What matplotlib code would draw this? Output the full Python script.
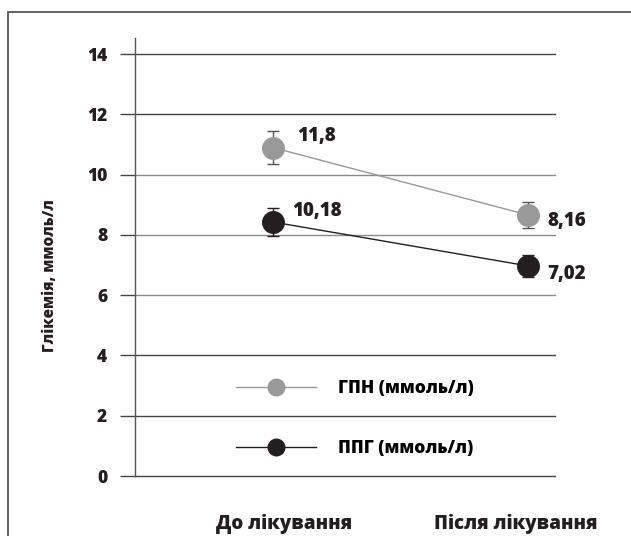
import matplotlib.pyplot as plt
from matplotlib.patches import Rectangle
from matplotlib.transforms import ScaledTranslation

plt.rcParams['font.family'] = ['Open Sans', 'DejaVu Sans']
plt.rcParams['font.weight'] = 'heavy'
W = 'heavy'

# data
stages = ['До лікування', 'Після лікування']
gpn = [10.9, 8.66]
gpn_err = [0.56, 0.43]
gpn_labels = ['11,8', '8,16']
ppg = [8.43, 6.97]
ppg_err = [0.46, 0.38]
ppg_labels = ['10,18', '7,02']
yticks = [0, 2, 4, 6, 8, 10, 12, 14]

x = [1, 2]

fig = plt.figure(figsize=(6.31, 5.36), dpi=100)
ax = fig.add_axes([0.2139, 0.1119, 0.6656, 0.8181])

# frame round the figure (only left and top show in the picture)
fig.patches.append(Rectangle((8/631, -0.1), 1.2, 1.1 - 12/536,
                             transform=fig.transFigure, fill=False,
                             edgecolor='#555555', linewidth=1.3))

grid_cols = {0: '#444444', 2: '#444444', 4: '#444444', 6: '#8a8a8a',
             8: '#8a8a8a', 10: '#8a8a8a', 12: '#444444', 14: '#444444'}
for t in yticks:
    ax.axhline(t, color=grid_cols[t], linewidth=1.0, zorder=1, clip_on=False)

gray = '#999999'
black = '#231f20'

ax.errorbar(x, gpn, yerr=gpn_err, fmt='none', ecolor='#555555', elinewidth=1,
            capsize=4.5, capthick=1, zorder=2)
ax.plot(x, gpn, color=gray, linewidth=1, marker='o', markersize=15.5,
        markerfacecolor=gray, markeredgecolor=gray, zorder=3,
        label='ГПН (ммоль/л)')
ax.errorbar(x, ppg, yerr=ppg_err, fmt='none', ecolor=black, elinewidth=1,
            capsize=4.5, capthick=1, zorder=2)
ax.plot(x, ppg, color=black, linewidth=1, marker='o', markersize=15.5,
        markerfacecolor=black, markeredgecolor=black, zorder=3,
        label='ППГ (ммоль/л)')

offs_gpn = [(18, 8), (14, -4)]
offs_ppg = [(14, 8), (14, -6)]
for i in range(2):
    ax.annotate(gpn_labels[i], (x[i], gpn[i]), xytext=offs_gpn[i],
                textcoords='offset points', fontsize=13.5, fontweight=W,
                color='#231f20', ha='left', va='center')
    ax.annotate(ppg_labels[i], (x[i], ppg[i]), xytext=offs_ppg[i],
                textcoords='offset points', fontsize=13.5, fontweight=W,
                color='#231f20', ha='left', va='center')

ax.set_xlim(0.461, 2.105)
ax.set_ylim(0, 14.55)
ax.set_yticks(yticks)
ax.set_yticklabels([str(t) for t in yticks], fontsize=12.5, fontweight=W,
                   color='#231f20')
ax.tick_params(axis='y', length=11, width=1, color='#444444', pad=9)
ax.set_xticks(x)
ax.set_xticklabels(stages, fontsize=13.5, fontweight=W, color='#231f20')
ax.tick_params(axis='x', length=0, pad=27)
# labels sit a little off the points in the original
for lab, dx in zip(ax.get_xticklabels(), [11, -12]):
    lab.set_transform(lab.get_transform() +
                      ScaledTranslation(dx / 100, 0, fig.dpi_scale_trans))

for s in ['top', 'right', 'bottom']:
    ax.spines[s].set_visible(False)
ax.spines['left'].set_color('#555555')
ax.spines['left'].set_linewidth(1)

ax.set_ylabel('Глікемія, ммоль/л', fontsize=11, fontweight=W,
              color='#231f20')
ax.yaxis.set_label_coords(-0.183, 0.458)

ax.legend(loc='center left', bbox_to_anchor=(0.2405, 0.131), frameon=False,
          borderpad=0, borderaxespad=0, handlelength=4.6, handletextpad=1.3,
          labelspacing=2.5, markerscale=0.77,
          prop={'size': 12.5, 'weight': W})

fig.savefig('out.png', dpi=100)
